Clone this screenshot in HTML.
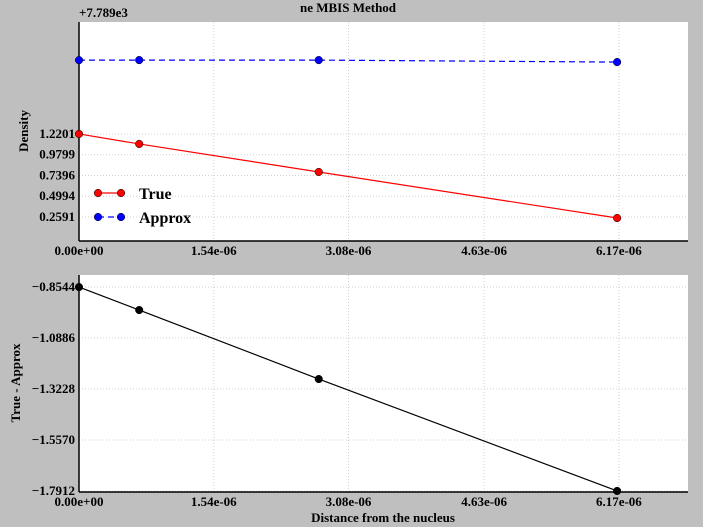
<!DOCTYPE html>
<html><head><meta charset="utf-8"><style>
body{margin:0;background:#bfbfbf;}
svg{display:block;font-family:"Liberation Serif",serif;font-weight:bold;}
</style></head><body>
<svg id="c" width="703" height="527"></svg>
<script>
const xs=[0,0.688e-6,2.74e-6,6.15e-6];
const trueVals=[1.2201,1.1044,0.78,0.247];
const approxVals=[2.0745,2.075,2.075,2.052];
const diffVals=[-0.8544,-0.960,-1.277,-1.7912];
const xTicks=[0,1.54e-6,3.08e-6,4.63e-6,6.17e-6];
const xTickLabels=["0.00e+00","1.54e-06","3.08e-06","4.63e-06","6.17e-06"];
const topTicks=[0.2591,0.4994,0.7396,0.9799,1.2201];
const botTicks=[-1.7912,-1.5570,-1.3228,-1.0886,-0.8544];

const NS="http://www.w3.org/2000/svg";
const svg=document.getElementById('c');
function el(t,a,p){const e=document.createElementNS(NS,t);for(const k in a)e.setAttribute(k,a[k]);(p||svg).appendChild(e);return e;}
const X0=79,X1=688,XMAX=6.96e-6;
const sx=v=>X0+v/XMAX*(X1-X0);
function panel(top,bot,ymin,ymax,ticks,name){
  const sy=v=>bot-(v-ymin)/(ymax-ymin)*(bot-top);
  const r=el('rect',{x:X0,y:top,width:X1-X0,height:bot-top,fill:'#fff'});
  
  
  xTicks.forEach((t,i)=>{
    el('line',{x1:sx(t),x2:sx(t),y1:top,y2:bot,stroke:'#d0d0d0','stroke-dasharray':'1,2'});
    const tx=el('text',{x:sx(t),y:bot+14,'font-size':13,'text-anchor':'middle'});tx.textContent=xTickLabels[i];
    
    
  });
  ticks.forEach(t=>{
    el('line',{x1:X0,x2:X1,y1:sy(t),y2:sy(t),stroke:'#d0d0d0','stroke-dasharray':'1,2'});
    const tx=el('text',{x:X0-4,y:sy(t)+4,'font-size':13,'text-anchor':'end'});tx.textContent=t.toFixed(4).replace('-','\u2212');
    
    
  });
  el('line',{x1:X0,x2:X0,y1:top,y2:bot,stroke:'#000','stroke-width':1.5});
  el('line',{x1:X0,x2:X1,y1:bot,y2:bot,stroke:'#000','stroke-width':1.5});
  return sy;
}
function series(vals,sy,color,dash,name){
  const pts=vals.map((v,i)=>sx(xs[i])+','+sy(v)).join(' ');
  const pl=el('polyline',{points:pts,fill:'none',stroke:color,'stroke-width':1.2,'stroke-dasharray':dash||'none'});
  
  
  vals.forEach((v,i)=>{
    const c=el('circle',{cx:sx(xs[i]),cy:sy(v),r:3.8,fill:color,stroke:'#000','stroke-width':0.5});
    
    
  });
}
const sy1=panel(22,241,-0.019,2.516,topTicks,'top');
series(trueVals,sy1,'#ff0000',null,'true');
series(approxVals,sy1,'#0000ff','6,4','approx');
const sy2=panel(275,492,-1.796,-0.799,botTicks,'bottom');
series(diffVals,sy2,'#000000',null,'diff');

function txt(s,a,name){const t=el('text',a);t.textContent=s;return t;}
txt('ne  MBIS Method',{x:348,y:12,'font-size':13,'text-anchor':'middle','xml:space':'preserve'},'chart-title');
txt('+7.789e3',{x:79,y:17,'font-size':13},'y-offset-label');
txt('Density',{x:0,y:0,'font-size':13,'text-anchor':'middle',transform:'translate(28,131) rotate(-90)'},'top-y-axis-title');
txt('True - Approx',{x:0,y:0,'font-size':13,'text-anchor':'middle',transform:'translate(20,383) rotate(-90)'},'bottom-y-axis-title');
txt('Distance from the nucleus',{x:383,y:522,'font-size':13,'text-anchor':'middle'},'x-axis-title');
const lg=el('g',{});


el('line',{x1:98,x2:121,y1:193,y2:193,stroke:'#f00','stroke-width':1.2},lg);
el('circle',{cx:98,cy:193,r:3.8,fill:'#f00',stroke:'#000','stroke-width':0.5},lg);
el('circle',{cx:121,cy:193,r:3.8,fill:'#f00',stroke:'#000','stroke-width':0.5},lg);
el('line',{x1:98,x2:121,y1:217,y2:217,stroke:'#00f','stroke-width':1.2,'stroke-dasharray':'6,4'},lg);
el('circle',{cx:98,cy:217,r:3.8,fill:'#00f',stroke:'#000','stroke-width':0.5},lg);
el('circle',{cx:121,cy:217,r:3.8,fill:'#00f',stroke:'#000','stroke-width':0.5},lg);
const l1=el('text',{x:139,y:199,'font-size':16},lg);l1.textContent='True';


const l2=el('text',{x:139,y:223,'font-size':16},lg);l2.textContent='Approx';


</script>
</body></html>
